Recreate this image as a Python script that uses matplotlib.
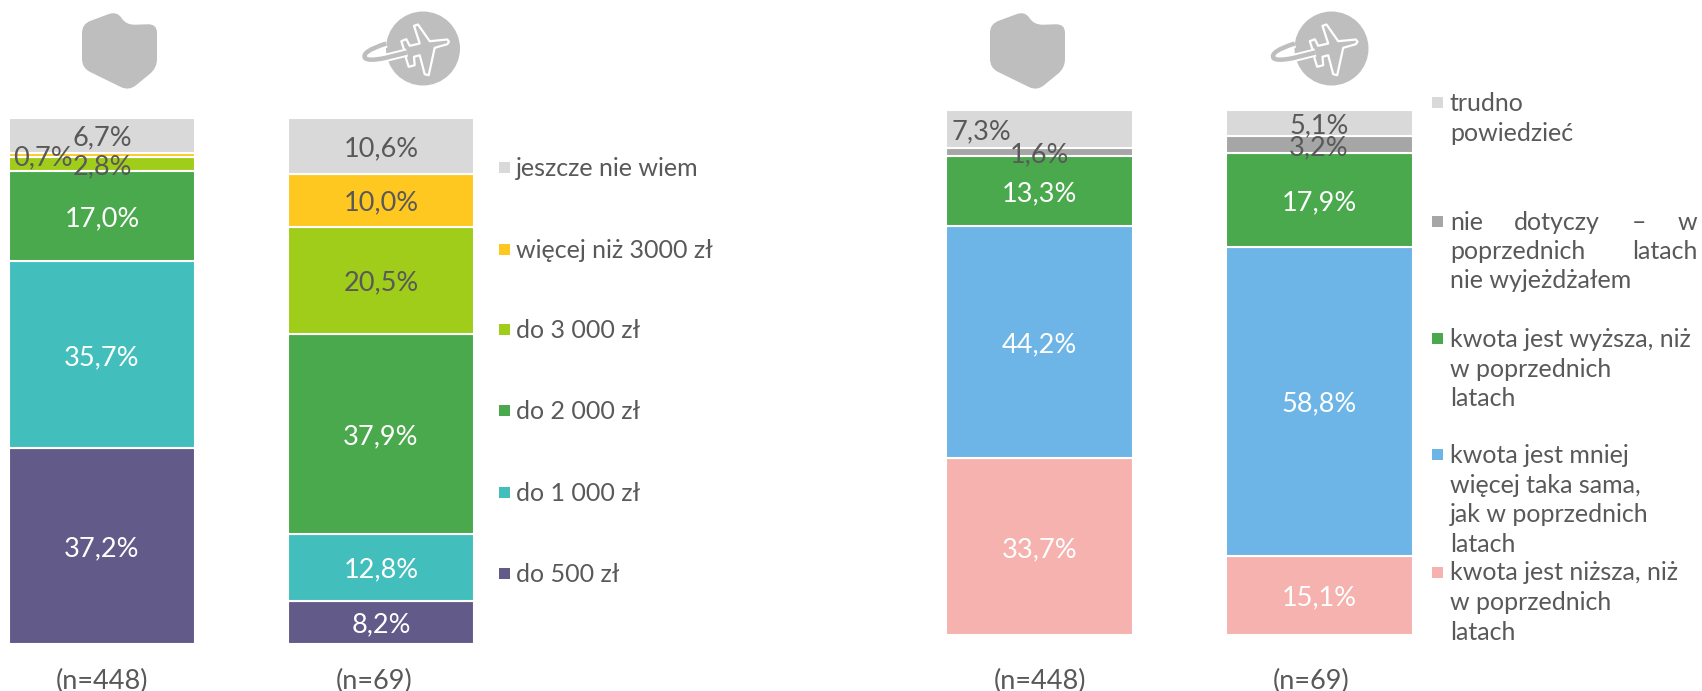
import numpy as np
import matplotlib
matplotlib.use("Agg")
import matplotlib.pyplot as plt
from matplotlib.path import Path
from matplotlib.patches import PathPatch, Circle, Rectangle, Polygon

plt.rcParams['font.family'] = ['Lato', 'DejaVu Sans']

# Data
grupy = ["Polska", "Zagranica"]
n_lewy = ["(n=448)", "(n=69)"]
n_prawy = ["(n=448)", "(n=69)"]

kwoty = ["do 500 zł", "do 1 000 zł", "do 2 000 zł", "do 3 000 zł", "więcej niż 3000 zł", "jeszcze nie wiem"]
kwoty_polska = [37.2, 35.7, 17.0, 2.8, 0.7, 6.7]
kwoty_zagranica = [8.2, 12.8, 37.9, 20.5, 10.0, 10.6]
kolory_lewy = ["#625B8A", "#42BFBD", "#49A94C", "#A0CC1A", "#FFC820", "#D9D9D9"]
tekst_lewy = ["white", "white", "white", "#595959", "#595959", "#595959"]

porownanie = ["kwota jest niższa, niż\nw poprzednich\nlatach",
              "kwota jest mniej\nwięcej taka sama,\njak w poprzednich\nlatach",
              "kwota jest wyższa, niż\nw poprzednich\nlatach",
              "nie dotyczy – w\npoprzednich latach\nnie wyjeżdżałem",
              "trudno\npowiedzieć"]
por_polska = [33.7, 44.2, 13.3, 1.6, 7.3]
por_zagranica = [15.1, 58.8, 17.9, 3.2, 5.1]
kolory_prawy = ["#F5B2AF", "#6CB5E6", "#49A94C", "#A6A6A6", "#D9D9D9"]
tekst_prawy = ["white", "white", "white", "#595959", "#595959"]

W, H = 1702, 691
SZARY = "#BEBEBE"
TEKST = "#595959"
FS = 19.5
FS_LEG = 18

fig = plt.figure(figsize=(W / 100, H / 100), dpi=100)


def panel(x0, x1, top, bottom, c0, krok, szer):
    ax = fig.add_axes([x0 / W, 1 - bottom / H, (x1 - x0) / W, (bottom - top) / H])
    ax.set_xlim((x0 - c0) / krok, (x1 - c0) / krok)
    ax.set_ylim(0, 100.05)
    ax.axis("off")
    return ax, szer / krok


def slupki(ax, szer, serie, kolory, tekst, przesun):
    for i, wartosci in enumerate(serie):
        dol = 0
        for j, v in enumerate(wartosci):
            ax.bar(i, v, szer, bottom=dol, color=kolory[j], edgecolor="white", linewidth=1.5, clip_on=False)
            dx = przesun.get((i, j), 0)
            ax.annotate(f"{v:.1f}%".replace(".", ","), (i + dx, dol + v / 2), xytext=(0, -2),
                        textcoords="offset points", color=tekst[j],
                        ha="center", va="center", fontsize=FS, zorder=5)
            dol += v


# Wykresy
ax1, s1 = panel(0, 500, 118, 644, 102, 279, 186)
slupki(ax1, s1, [kwoty_polska, kwoty_zagranica], kolory_lewy, tekst_lewy, {(0, 4): -0.212})

ax2, s2 = panel(920, 1420, 110, 635, 1039.5, 279.5, 187)
slupki(ax2, s2, [por_polska, por_zagranica], kolory_prawy, tekst_prawy, {(0, 4): -0.208})

# Warstwa na legendy, podpisy i ikony (piksele)
ov = fig.add_axes([0, 0, 1, 1], zorder=10)
ov.set_xlim(0, W)
ov.set_ylim(H, 0)
ov.axis("off")
ov.patch.set_alpha(0)

for x, t in zip([102, 374], n_lewy):
    ov.text(x, 681, t, color=TEKST, fontsize=FS, ha="center", va="center")
for x, t in zip([1040, 1311], n_prawy):
    ov.text(x, 681, t, color=TEKST, fontsize=FS, ha="center", va="center")

# Legenda lewa
y_lewy = [574, 493, 411, 330, 250, 168]
for y, k, t in zip(y_lewy, kolory_lewy, kwoty):
    ov.add_patch(Rectangle((499, y - 6), 11, 11, color=k, lw=0))
    ov.text(516, y, t, color=TEKST, fontsize=FS_LEG, va="center")

# Legenda prawa
y_prawy = [[573, 603, 633], [455, 485, 514, 544], [339, 369, 398], [222, 251, 280], [103, 133]]
PRAWA = 1697


def justuj(slowa, lewa, prawa, y):
    r = fig.canvas.get_renderer()
    teksty = [ov.text(lewa, y, s, color=TEKST, fontsize=FS_LEG, va="center") for s in slowa]
    szer = [t.get_window_extent(r).width for t in teksty]
    luka = (prawa - lewa - sum(szer)) / (len(slowa) - 1)
    x = lewa
    for t, w in zip(teksty, szer):
        t.set_x(x)
        x += w + luka


for ys, k, t in zip(y_prawy, kolory_prawy, porownanie):
    ov.add_patch(Rectangle((1432, ys[0] - 6), 11, 11, color=k, lw=0))
    for y, linia in zip(ys, t.split("\n")):
        if linia.startswith("nie dotyczy") or linia == "poprzednich latach":
            justuj(linia.split(" "), 1450, PRAWA, y)
        else:
            ov.text(1450, y, linia, color=TEKST, fontsize=FS_LEG, va="center")


# Ikony
def ikona_polska(dx):
    p = np.array([(82, 24), (117, 11), (126, 25), (157, 24), (157, 68), (129, 91), (82, 68)], dtype=float)
    p[:, 0] += dx
    v = []
    c = []
    for i in range(len(p)):
        a, b, d = p[i - 1], p[i], p[(i + 1) % len(p)]
        r1 = min(9, np.linalg.norm(a - b) / 2)
        r2 = min(9, np.linalg.norm(d - b) / 2)
        p1 = b + (a - b) / np.linalg.norm(a - b) * r1
        p2 = b + (d - b) / np.linalg.norm(d - b) * r2
        v += [p1, b, p2]
        c += [Path.MOVETO if i == 0 else Path.LINETO, Path.CURVE3, Path.CURVE3]
    v.append(v[0])
    c.append(Path.CLOSEPOLY)
    ov.add_patch(PathPatch(Path(v, c), color=SZARY, lw=0))


def ikona_samolot(cx):
    cy = 48.5
    ov.add_patch(Circle((cx, cy), 37, color=SZARY, lw=0))
    # samolot
    kadlub = np.array([(24.3, -9), (6.7, -7.3), (-5, -24), (-9, -22.7), (-3.3, -5), (-13.3, -2.7),
                       (-16.7, -9.3), (-21.7, -7.3), (-18.3, 3.3), (-16.7, 10.7), (-14.3, 18.3),
                       (-8.3, 16.7), (-9, 8.3), (-3.3, 6.7), (1.7, 25.7), (5.7, 26.7),
                       (11.7, -0.7), (24.3, -4.3), (26, -6.7)])
    ov.add_patch(Polygon(kadlub + (cx, cy), closed=True, fc=SZARY, ec="white", lw=1.6, joinstyle="round"))
    # orbita
    v = np.array([(-36.7, -5), (-62, 3), (-58, 9.5), (-55, 13), (-38, 9.5), (-16, 4)]) + (cx, cy)
    kody = [Path.MOVETO, Path.CURVE3, Path.CURVE3, Path.CURVE3, Path.CURVE3, Path.LINETO]
    ov.add_patch(PathPatch(Path(v, kody), fc="none", ec="white", lw=6, capstyle="butt"))
    ov.add_patch(PathPatch(Path(v, kody), fc="none", ec=SZARY, lw=3.2, capstyle="butt"))


ikona_polska(0)
ikona_polska(908)
ikona_samolot(423)
ikona_samolot(1331.5)

fig.savefig("out.png", dpi=100)
